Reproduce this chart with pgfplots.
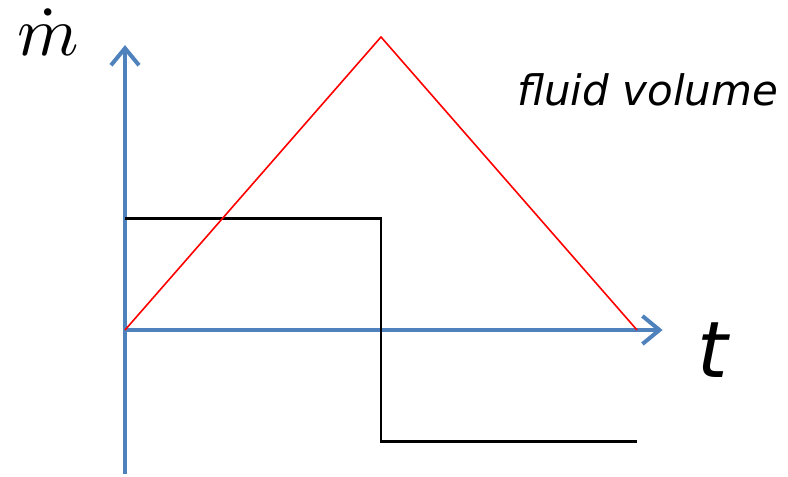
\documentclass[border=0pt]{standalone}
\usepackage{pgfplots}
\pgfplotsset{compat=1.18}
\usepackage{graphicx}
\usepackage{fontspec}
\newfontfamily\vfont{DejaVu Sans}
\usetikzlibrary{arrows.meta}
\definecolor{axblue}{HTML}{4F81BD}
\begin{document}
\begin{tikzpicture}
\begin{axis}[
  width=788pt, height=474pt, scale only axis,
  xmin=-0.48828, xmax=2.58984,
  ymin=-1.29148, ymax=2.95964,
  axis lines=none, clip=false,
]
\path (rel axis cs:0,0) rectangle (rel axis cs:1,1);
% axes
\draw[axblue, line width=4pt, -{Straight Barb[length=17pt,width=28pt,line width=4pt]}]
  (axis cs:0,-1.2915) -- (axis cs:0,2.555);
\draw[axblue, line width=4pt, -{Straight Barb[length=17pt,width=28pt,line width=4pt]}]
  (axis cs:0,0) -- (axis cs:2.1,0);
% mass flow (black step)
\addplot[black, line width=2.6pt, line join=miter] coordinates {(0,1) (1,1) (1,-1) (2,-1)};
% fluid volume (red triangle)
\addplot[red, line width=1.6pt] coordinates {(0,0) (1,2.628) (2,0)};
% labels
\node[anchor=base west, inner sep=0pt, font=\vfont\itshape\fontsize{42}{45}\selectfont] at (axis cs:1.531,2.009) {fluid volume};
\node[anchor=base west, inner sep=0pt, font=\vfont\itshape\fontsize{78}{80}\selectfont] at (axis cs:2.234,-0.43) {t};
\node[anchor=base west, inner sep=0pt] at (axis cs:-0.422,2.466) {\scalebox{7}{$\dot{m}$}};
\end{axis}
\end{tikzpicture}
\end{document}
